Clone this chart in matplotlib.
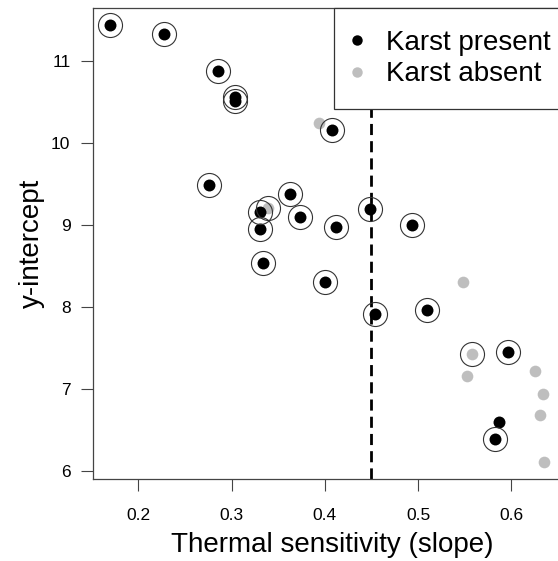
import matplotlib
matplotlib.use("Agg")
import matplotlib.pyplot as plt
from matplotlib.lines import Line2D

plt.rcParams["font.family"] = ["Liberation Sans", "DejaVu Sans"]

# sites with karst present (black) and absent (grey); circled = ringed points
present_x = [0.170, 0.227, 0.285, 0.304, 0.304, 0.408, 0.276, 0.363, 0.330, 0.373,
             0.330, 0.412, 0.448, 0.494, 0.334, 0.400, 0.454, 0.510, 0.596, 0.587, 0.582]
present_y = [11.43, 11.33, 10.87, 10.56, 10.51, 10.16, 9.49, 9.37, 9.16, 9.10,
             8.95, 8.97, 9.19, 9.00, 8.53, 8.30, 7.91, 7.96, 7.45, 6.59, 6.39]
present_circled = [True] * 19 + [False, True]

absent_x = [0.394, 0.339, 0.548, 0.558, 0.552, 0.625, 0.634, 0.631, 0.635]
absent_y = [10.24, 9.20, 8.30, 7.42, 7.15, 7.22, 6.93, 6.68, 6.11]
absent_circled = [False, True, False, True, False, False, False, False, False]

threshold = 0.45
GREY = "#bebebe"

right_px = 572
fig = plt.figure(figsize=(5.58, 5.61), dpi=100)
ax = fig.add_axes([93.3 / 558, 81.7 / 561, (right_px - 93.3) / 558, (479.3 - 8) / 561])

ax.axvline(threshold, color="black", lw=2.0, ls=(0, (4, 2.2)), zorder=1)
ax.plot(absent_x, absent_y, "o", color=GREY, ms=8.4, mew=0, zorder=2)
ax.plot(present_x, present_y, "o", color="black", ms=8.6, mew=0, zorder=3)

cx = [x for x, c in zip(present_x + absent_x, present_circled + absent_circled) if c]
cy = [y for y, c in zip(present_y + absent_y, present_circled + absent_circled) if c]
ax.plot(cx, cy, "o", mfc="none", mec="#333333", ms=17.3, mew=0.8, zorder=4)

ax.set_xlim(0.1517, 0.2 + (right_px - 138.3) / 932.5)
ax.set_ylim(5.895, 11.643)
ax.set_xticks([0.2, 0.3, 0.4, 0.5, 0.6])
ax.set_yticks([6, 7, 8, 9, 10, 11])
ax.tick_params(axis="both", direction="out", length=8.5, width=0.8, color="#444444",
               labelsize=12.5)
ax.tick_params(axis="x", pad=12)
ax.tick_params(axis="y", pad=8)
for s in ax.spines.values():
    s.set_color("#444444")
    s.set_linewidth(0.9)

ax.set_xlabel("Thermal sensitivity (slope)", fontsize=20, labelpad=7)
ax.set_ylabel("y-intercept", fontsize=20, labelpad=4)

handles = [Line2D([], [], ls="none", marker="o", color="black", ms=7.5, mew=0),
           Line2D([], [], ls="none", marker="o", color=GREY, ms=7.5, mew=0)]
leg = ax.legend(handles, ["Karst present", "Karst absent"], loc="upper right",
                bbox_to_anchor=(1, 1), borderaxespad=0, fontsize=20, frameon=True,
                fancybox=False, framealpha=1, edgecolor="#333333", borderpad=0.78,
                labelspacing=0.2, handlelength=0.1, handletextpad=0.98)
leg.get_frame().set_linewidth(0.9)
leg.set_zorder(10)

fig.savefig("out.png", dpi=100)
